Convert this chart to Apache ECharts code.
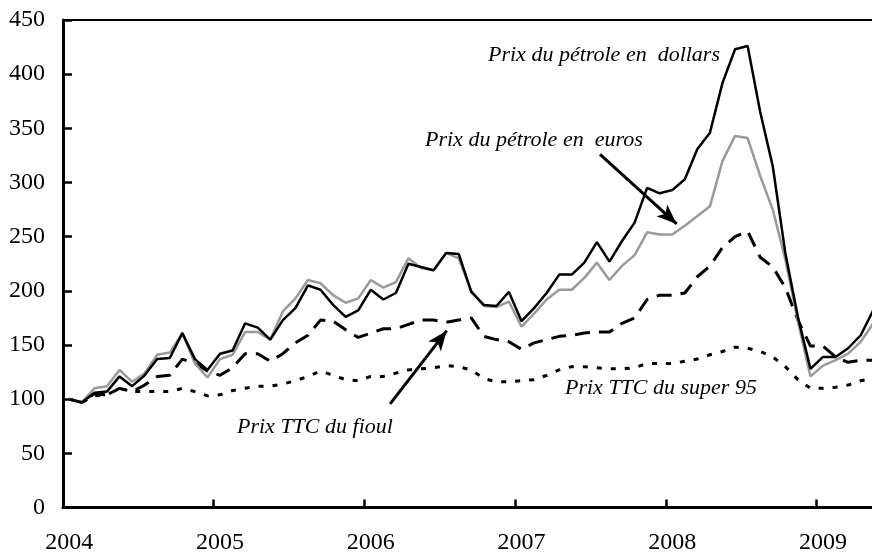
<!DOCTYPE html>
<html lang="fr">
<head>
<meta charset="UTF-8">
<title>Prix du pétrole</title>
<script src="https://cdn.jsdelivr.net/npm/echarts@6/dist/echarts.min.js"></script>
</head>
<body style="margin:0">
<div id="chart" style="width:872px;height:552px"></div>
<script>
// mensuel, janvier 2004 = 100
var years = ['2004', '2005', '2006', '2007', '2008', '2009'];
var dollars = [100, 97, 106, 107, 121, 112, 122, 137, 138, 161, 137, 127,
    142, 145, 170, 166, 155, 173, 184, 205, 201, 187, 176, 182,
    201, 192, 198, 225, 222, 219, 235, 234, 199, 187, 186, 199,
    172, 184, 198, 215, 215, 226, 245, 227, 246, 263, 295, 290,
    293, 303, 331, 346, 392, 423, 426, 365, 315, 235, 176, 128,
    139, 139, 147, 159, 182];
var euros = [100, 97, 110, 112, 127, 116, 124, 141, 143, 161, 133, 120,
    137, 141, 162, 162, 155, 181, 193, 210, 207, 196, 189, 193,
    210, 203, 208, 230, 221, 219, 235, 230, 200, 186, 185, 190,
    167, 179, 192, 201, 201, 212, 226, 210, 223, 233, 254, 252,
    252, 260, 269, 278, 320, 343, 341, 306, 275, 229, 172, 121,
    131, 136, 142, 153, 170];
var fioul = [100, 97, 105, 104, 110, 107, 113, 121, 122, 137, 133, 126,
    122, 129, 142, 142, 135, 142, 152, 159, 173, 172, 164, 157,
    161, 165, 165, 169, 173, 173, 171, 173, 175, 158, 155, 153,
    146, 152, 155, 158, 159, 161, 162, 162, 170, 175, 192, 196,
    196, 198, 213, 223, 240, 250, 255, 231, 222, 203, 173, 149,
    149, 139, 134, 136, 136];
var super95 = [100, 97, 103, 104, 110, 107, 107, 107, 107, 110, 107, 103,
    104, 108, 110, 112, 112, 114, 117, 121, 126, 122, 118, 117,
    121, 121, 124, 127, 128, 129, 131, 130, 127, 119, 116, 116,
    117, 118, 122, 127, 130, 130, 129, 128, 128, 129, 133, 133,
    133, 135, 137, 141, 144, 148, 147, 144, 139, 130, 118, 110,
    110, 111, 113, 117, 119];

function pts(arr) {
    // point au milieu du mois
    return arr.map(function (v, i) { return [i + 0.5, v]; });
}

var chart = echarts.init(document.getElementById('chart'));
var serif = '"Liberation Serif", "Times New Roman", serif';
var noteFont = 'italic 22px ' + serif;

var option = {
    animation: false,
    backgroundColor: '#fff',
    grid: {left: 63, right: 0, top: 20, bottom: 44.5, outerBoundsMode: 'none', containLabel: false},
    xAxis: [{
        type: 'value',
        min: 0,
        max: 64.4,
        interval: 12,
        splitLine: {show: false},
        axisLine: {lineStyle: {color: '#000', width: 3}},
        axisTick: {inside: true, length: 8, lineStyle: {color: '#000', width: 2.5}},
        axisLabel: {
            margin: 23,
            padding: [0, 0, 0, 12.6],
            color: '#000',
            fontFamily: serif,
            fontSize: 24,
            showMaxLabel: false,
            formatter: function (v) {
                var k = Math.round(v / 12);
                return years[k] || '';
            }
        }
    }, {
        type: 'value',
        position: 'top',
        min: 0,
        max: 64.4,
        splitLine: {show: false},
        axisLine: {show: true, lineStyle: {color: '#000', width: 2}},
        axisTick: {show: false},
        axisLabel: {show: false}
    }],
    yAxis: {
        type: 'value',
        min: 0,
        max: 450,
        interval: 50,
        splitLine: {show: false},
        axisLine: {show: true, lineStyle: {color: '#000', width: 3}},
        axisTick: {show: true, inside: true, length: 9, lineStyle: {color: '#000', width: 2.5}},
        axisLabel: {margin: 18, color: '#000', fontFamily: serif, fontSize: 24}
    },
    series: [{
        name: 'Prix TTC du super 95',
        type: 'line',
        data: pts(super95),
        showSymbol: false,
        lineStyle: {color: '#000', width: 3, type: [5, 9]}
    }, {
        name: 'Prix TTC du fioul',
        type: 'line',
        data: pts(fioul),
        showSymbol: false,
        lineStyle: {color: '#000', width: 3, type: [15, 9]}
    }, {
        name: 'Prix du pétrole en euros',
        type: 'line',
        data: pts(euros),
        showSymbol: false,
        lineStyle: {color: '#9a9a9a', width: 2.5}
    }, {
        name: 'Prix du pétrole en dollars',
        type: 'line',
        data: pts(dollars),
        showSymbol: false,
        lineStyle: {color: '#000', width: 2.5},
        markLine: {
            silent: true,
            symbol: ['none', 'arrow'],
            symbolSize: [12, 20],
            label: {show: false},
            lineStyle: {color: '#000', width: 3, type: 'solid'},
            data: [
                [{coord: [42.75, 326]}, {coord: [48.85, 261.8]}],
                [{coord: [26.04, 95.6]}, {coord: [30.55, 163.2]}]
            ]
        }
    }],
    graphic: [
        {type: 'text', left: 488, top: 44, style: {text: 'Prix du pétrole en  dollars', font: noteFont, fill: '#000'}},
        {type: 'text', left: 425, top: 129, style: {text: 'Prix du pétrole en  euros', font: noteFont, fill: '#000'}},
        {type: 'text', left: 565, top: 377, style: {text: 'Prix TTC du super 95', font: noteFont, fill: '#000'}},
        {type: 'text', left: 237, top: 416, style: {text: 'Prix TTC du fioul', font: noteFont, fill: '#000'}}
    ]
};
chart.setOption(option);
</script>
</body>
</html>
